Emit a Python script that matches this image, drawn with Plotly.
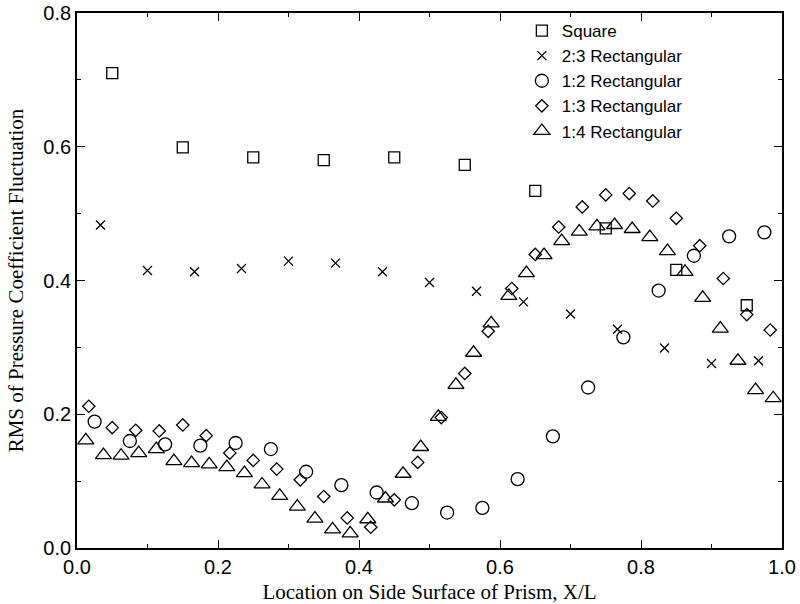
import plotly.graph_objects as go

# ---------------- data ----------------
sq_x = [0.05, 0.15, 0.25, 0.35, 0.45, 0.55, 0.65, 0.75, 0.85, 0.95]
sq_y = [0.710, 0.599, 0.584, 0.580, 0.584, 0.573, 0.534, 0.478, 0.416, 0.363]

r23_x = [0.0333, 0.1, 0.1667, 0.2333, 0.3, 0.3667, 0.4333, 0.5, 0.5667, 0.6333,
         0.7, 0.7667, 0.8333, 0.9, 0.9667]
r23_y = [0.483, 0.415, 0.413, 0.418, 0.429, 0.426, 0.413, 0.397, 0.384, 0.368,
         0.350, 0.327, 0.299, 0.276, 0.280]

r12_x = [0.025, 0.075, 0.125, 0.175, 0.225, 0.275, 0.325, 0.375, 0.425, 0.475,
         0.525, 0.575, 0.625, 0.675, 0.725, 0.775, 0.825, 0.875, 0.925, 0.975]
r12_y = [0.189, 0.160, 0.155, 0.153, 0.157, 0.148, 0.114, 0.094, 0.083, 0.067,
         0.053, 0.060, 0.103, 0.167, 0.240, 0.315, 0.385, 0.437, 0.466, 0.472]

r13_x = [0.0167, 0.05, 0.0833, 0.1167, 0.15, 0.1833, 0.2167, 0.25, 0.2833, 0.3167,
         0.35, 0.3833, 0.4167, 0.45, 0.4833, 0.5167, 0.55, 0.5833, 0.6167, 0.65,
         0.6833, 0.7167, 0.75, 0.7833, 0.8167, 0.85, 0.8833, 0.9167, 0.95, 0.9833]
r13_y = [0.212, 0.180, 0.176, 0.175, 0.184, 0.168, 0.142, 0.131, 0.118, 0.102,
         0.077, 0.045, 0.031, 0.072, 0.128, 0.195, 0.261, 0.324, 0.388, 0.439,
         0.480, 0.510, 0.528, 0.530, 0.519, 0.493, 0.452, 0.403, 0.349, 0.326]

r14_x = [0.0125, 0.0375, 0.0625, 0.0875, 0.1125, 0.1375, 0.1625, 0.1875, 0.2125, 0.2375,
         0.2625, 0.2875, 0.3125, 0.3375, 0.3625, 0.3875, 0.4125, 0.4375, 0.4625, 0.4875,
         0.5125, 0.5375, 0.5625, 0.5875, 0.6125, 0.6375, 0.6625, 0.6875, 0.7125, 0.7375,
         0.7625, 0.7875, 0.8125, 0.8375, 0.8625, 0.8875, 0.9125, 0.9375, 0.9625, 0.9875]
r14_y = [0.161, 0.139, 0.138, 0.142, 0.148, 0.130, 0.127, 0.125, 0.121, 0.112,
         0.095, 0.078, 0.062, 0.044, 0.028, 0.022, 0.043, 0.074, 0.111, 0.151,
         0.196, 0.244, 0.292, 0.336, 0.377, 0.411, 0.438, 0.459, 0.473, 0.481,
         0.483, 0.477, 0.465, 0.444, 0.413, 0.374, 0.328, 0.280, 0.236, 0.224]

names = ["Square", "2:3 Rectangular", "1:2 Rectangular", "1:3 Rectangular", "1:4 Rectangular"]
x_tick_vals = [0.0, 0.2, 0.4, 0.6, 0.8, 1.0]
x_tick_text = ["0.0", "0.2", "0.4", "0.6", "0.8", "1.0"]
y_tick_vals = [0.0, 0.2, 0.4, 0.6, 0.8]
y_tick_text = ["0.0", "0.2", "0.4", "0.6", "0.8"]

# ---------------- figure ----------------
series = [
    (sq_x, sq_y, "square-open", 11),
    (r23_x, r23_y, "x-thin-open", 9),
    (r12_x, r12_y, "circle-open", 13),
    (r13_x, r13_y, "diamond-open", 9.5),
    (r14_x, r14_y, "triangle-up-open", 14),
]

fig = go.Figure()
for (xs, ys, sym, sz), nm in zip(series, names):
    fig.add_trace(go.Scatter(
        x=xs, y=ys, mode="markers", name=nm,
        marker=dict(symbol=sym, size=sz, color="black",
                    line=dict(color="black", width=1.3)),
    ))

axis_common = dict(
    showline=True, linecolor="black", linewidth=1.8, mirror="allticks",
    ticks="inside", ticklen=8, tickwidth=1.3, tickcolor="black",
    showgrid=False, zeroline=False, automargin=False,
    tickfont=dict(family="Liberation Sans, Arial, sans-serif", size=20, color="black"),
    minor=dict(ticks="inside", ticklen=4, tickwidth=1.1, tickcolor="black", dtick=0.1),
)

fig.update_xaxes(
    range=[0, 1.0], tickvals=x_tick_vals, ticktext=x_tick_text,
    title=dict(text="Location on Side Surface of Prism, X/L",
               font=dict(family="Liberation Serif, Times New Roman, serif", size=21, color="black"),
               standoff=12),
    **axis_common,
)
fig.update_yaxes(
    range=[0, 0.8], tickvals=y_tick_vals, ticktext=y_tick_text,
    title=dict(text="RMS of Pressure Coefficient Fluctuation",
               font=dict(family="Liberation Serif, Times New Roman, serif", size=21, color="black"),
               standoff=14),
    **axis_common,
)

fig.update_layout(
    width=800, height=604,
    margin=dict(l=77, r=18, t=13, b=56, autoexpand=False),
    paper_bgcolor="white", plot_bgcolor="white",
    showlegend=True,
    legend=dict(
        x=0.631, y=1.0, xanchor="left", yanchor="top",
        bgcolor="rgba(0,0,0,0)", borderwidth=0,
        font=dict(family="Liberation Sans, Arial, sans-serif", size=17, color="black"),
        tracegroupgap=0,
    ),
)

fig.write_html("out.html")
